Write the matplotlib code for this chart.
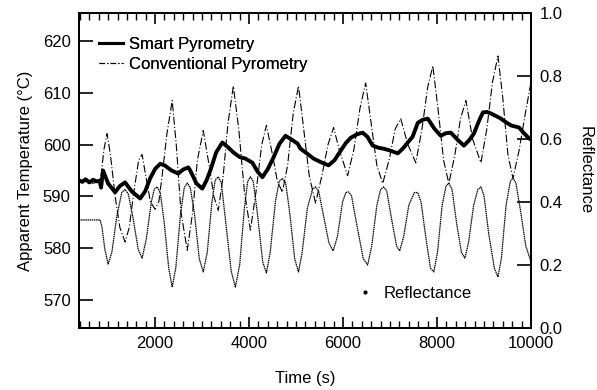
import matplotlib
matplotlib.use("Agg")
import matplotlib.pyplot as plt
from matplotlib.ticker import MultipleLocator
from matplotlib.lines import Line2D

plt.rcParams['font.family'] = ['Liberation Sans', 'DejaVu Sans']

# Smart pyrometry (time s, apparent temperature C)
smart_t = [380, 450, 520, 600, 680, 760, 820, 850, 892, 1000, 1148, 1250, 1361, 1500,
           1681, 1790, 1895, 2000, 2108, 2200, 2350, 2492, 2600, 2705, 2748, 2880, 3004,
           3090, 3175, 3300, 3431, 3550, 3665, 3800, 3921, 4071, 4180, 4284, 4400, 4519,
           4650, 4775, 4900, 5031, 5095, 5230, 5372, 5530, 5692, 5820, 5948, 6060, 6161,
           6300, 6417, 6520, 6631, 6750, 6865, 7020, 7164, 7280, 7377, 7480, 7591, 7700,
           7804, 7950, 8081, 8190, 8295, 8430, 8572, 8680, 8785, 8890, 8977, 9060, 9148,
           9260, 9361, 9470, 9575, 9660, 9745, 9850, 9958, 10000]
smart_T = [593.1, 592.8, 593.3, 592.7, 593.2, 592.9, 593.0, 591.7, 595.0, 592.5, 590.8,
           592.0, 592.7, 591.0, 589.6, 591.0, 593.5, 595.3, 596.3, 596.0, 595.0, 594.4,
           595.2, 595.6, 595.0, 592.5, 591.5, 593.0, 595.0, 598.5, 600.4, 599.5, 598.5,
           597.6, 597.3, 596.5, 594.8, 593.7, 595.3, 597.5, 600.2, 601.7, 601.0, 600.2,
           599.2, 598.3, 597.3, 596.6, 596.0, 597.0, 598.8, 600.3, 601.3, 602.0, 602.3,
           601.5, 599.8, 599.4, 599.2, 598.8, 598.3, 599.3, 600.4, 601.5, 604.2, 604.8,
           605.0, 603.0, 601.7, 602.2, 602.3, 601.0, 599.8, 600.8, 602.1, 604.5, 606.2,
           606.3, 606.0, 605.5, 605.0, 604.3, 603.7, 603.5, 603.3, 602.2, 601.2, 601.0]

# Conventional pyrometry (time s, apparent temperature C)
conv_t = [380, 500, 650, 800, 850, 910, 977, 1050, 1150, 1250, 1361, 1450, 1550, 1650,
          1724, 1800, 1900, 2000, 2080, 2150, 2250, 2364, 2450, 2550, 2684, 2800, 2900,
          3025, 3150, 3250, 3345, 3450, 3550, 3665, 3780, 3900, 4028, 4150, 4270, 4369,
          4500, 4600, 4710, 4820, 4940, 5052, 5150, 5280, 5415, 5550, 5680, 5799, 5920,
          6097, 6230, 6360, 6481, 6600, 6720, 6844, 6980, 7110, 7228, 7380, 7548, 7680,
          7800, 7911, 8020, 8140, 8252, 8380, 8500, 8615, 8760, 8935, 9060, 9180, 9297,
          9400, 9510, 9617, 9750, 9880, 10000]
conv_T = [592.8, 593.0, 592.5, 592.8, 594.0, 599.0, 602.1, 598.0, 590.0, 584.0, 581.2,
          584.0, 591.0, 597.0, 598.1, 594.0, 589.0, 587.5, 589.0, 594.0, 602.0, 608.5,
          600.0, 587.0, 579.6, 587.0, 597.0, 602.7, 596.0, 590.0, 587.3, 594.0, 604.0,
          611.3, 603.0, 591.0, 583.5, 591.0, 600.0, 603.7, 598.0, 593.0, 590.8, 596.0,
          606.0, 611.3, 604.0, 594.0, 588.7, 594.0, 600.0, 603.3, 599.0, 594.0, 599.0,
          607.0, 611.9, 604.0, 596.0, 592.5, 597.0, 603.0, 605.0, 600.0, 596.5, 603.0,
          611.0, 615.2, 607.0, 597.0, 592.5, 598.0, 605.0, 608.5, 601.0, 596.5, 603.0,
          612.0, 617.1, 609.0, 598.0, 593.5, 599.0, 606.0, 612.0]

# Reflectance (time s, reflectance)
refl_t = [380, 830, 870, 930, 1000, 1080, 1180, 1290, 1361, 1430, 1530, 1640, 1724, 1810,
          1920, 1980, 2044, 2110, 2190, 2290, 2364, 2440, 2540, 2620, 2684, 2750, 2840,
          2940, 3025, 3110, 3210, 3280, 3345, 3410, 3500, 3620, 3708, 3800, 3900, 3970,
          4028, 4090, 4180, 4290, 4369, 4450, 4560, 4640, 4710, 4780, 4870, 4970, 5052,
          5130, 5240, 5350, 5415, 5480, 5580, 5700, 5790, 5880, 5990, 6060, 6119, 6180,
          6290, 6430, 6524, 6610, 6720, 6800, 6865, 6930, 7040, 7140, 7207, 7290, 7400,
          7520, 7590, 7660, 7760, 7860, 7932, 8010, 8110, 8190, 8252, 8320, 8420, 8520,
          8593, 8670, 8780, 8870, 8935, 9000, 9100, 9220, 9297, 9370, 9470, 9560, 9617,
          9680, 9780, 9890, 10000]
refl_R = [0.343, 0.343, 0.32, 0.25, 0.203, 0.24, 0.35, 0.43, 0.44, 0.425, 0.35, 0.25,
          0.222, 0.28, 0.40, 0.44, 0.448, 0.43, 0.34, 0.19, 0.13, 0.19, 0.36, 0.445,
          0.46, 0.445, 0.36, 0.22, 0.178, 0.24, 0.40, 0.47, 0.48, 0.46, 0.34, 0.18, 0.13,
          0.20, 0.38, 0.465, 0.48, 0.465, 0.36, 0.21, 0.175, 0.24, 0.40, 0.465, 0.475,
          0.46, 0.36, 0.22, 0.178, 0.24, 0.38, 0.44, 0.448, 0.435, 0.36, 0.27, 0.245,
          0.29, 0.40, 0.43, 0.432, 0.42, 0.33, 0.22, 0.20, 0.26, 0.39, 0.44, 0.448,
          0.435, 0.34, 0.26, 0.245, 0.29, 0.39, 0.43, 0.43, 0.40, 0.29, 0.19, 0.178,
          0.24, 0.39, 0.45, 0.46, 0.44, 0.33, 0.24, 0.222, 0.27, 0.39, 0.44, 0.448,
          0.42, 0.30, 0.19, 0.162, 0.22, 0.39, 0.465, 0.476, 0.46, 0.37, 0.26, 0.21]

fig = plt.figure(figsize=(5.97, 3.90), dpi=100)
ax = fig.add_axes([0.1323, 0.159, 0.7571, 0.8077])
ax2 = ax.twinx()

ax2.plot(refl_t, refl_R, color='black', lw=0.9, ls=(0, (1.2, 0.5)))
ax.plot(conv_t, conv_T, color='black', lw=0.8, ls=(0, (7, 2, 1, 2)))
ax.plot(smart_t, smart_T, color='black', lw=2.8, solid_joinstyle='round')
ax.set_zorder(ax2.get_zorder() + 1)
ax.patch.set_visible(False)

ax.set_xlim(380, 10000)
ax.set_ylim(564.6, 625.4)
ax2.set_ylim(0.0, 1.0)

ax.xaxis.set_major_locator(MultipleLocator(2000))
ax.xaxis.set_minor_locator(MultipleLocator(200))
ax.yaxis.set_major_locator(MultipleLocator(10))
ax2.yaxis.set_major_locator(MultipleLocator(0.2))

ax.tick_params(axis='x', which='both', direction='in', top=True, bottom=True)
ax.tick_params(axis='x', which='major', length=8, width=1.2, labelsize=12, pad=6)
ax.tick_params(axis='x', which='minor', length=5, width=1.0)
ax.tick_params(axis='y', which='major', direction='in', length=10, width=1.2,
               labelsize=12, pad=6, right=False)
ax2.tick_params(axis='y', which='major', direction='in', length=10, width=1.2,
                labelsize=12, pad=6)
ax2.set_yticklabels([f"{v:.1f}" for v in ax2.get_yticks()])

for a in (ax, ax2):
    for s in a.spines.values():
        s.set_linewidth(1.4)

ax.set_xlabel("Time (s)", fontsize=12, labelpad=14)
ax.set_ylabel("Apparent Temperature (°C)", fontsize=12, labelpad=7)
ax2.set_ylabel("Reflectance", fontsize=12, rotation=270, labelpad=22)

h1 = Line2D([], [], color='black', lw=2.2)
h2 = Line2D([], [], color='black', lw=0.8, ls=(0, (5, 2, 1, 2)))
leg = ax.legend([h1, h2], ["Smart Pyrometry", "Conventional Pyrometry"],
                loc='upper left', bbox_to_anchor=(0.03, 0.945), frameon=False,
                fontsize=12, handlelength=1.4, handletextpad=0.4, labelspacing=0.3,
                borderaxespad=0)
ax.add_artist(leg)
h3 = Line2D([], [], color='black', ls='none', marker='.', markersize=4)
ax2.legend([h3], ["Reflectance"], loc='upper left', bbox_to_anchor=(0.6, 0.156),
           frameon=False, fontsize=12, handlelength=1.0, handletextpad=0.6,
           borderaxespad=0)

fig.savefig("out.png", dpi=100)
